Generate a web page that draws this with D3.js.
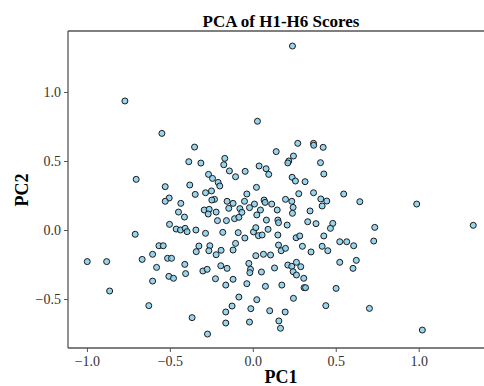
<!DOCTYPE html>
<html><head><meta charset="utf-8">
<script src="https://cdn.jsdelivr.net/npm/d3@7"></script>
<style>body{margin:0;background:#fff;overflow:hidden}svg{display:block}</style>
</head><body>
<script>
const pc1 = [-0.771,-0.548,0.239,0.028,
-0.351,-0.386,-0.313,-0.703,-0.528,-0.380,-0.347,-0.504,-0.528,-0.434,-0.448,-0.412,-0.502,-0.462,-0.436,-0.408,-0.396,-0.343,-0.709,
0.271,0.366,0.367,0.424,0.141,0.245,0.217,0.211,-0.169,-0.175,-0.141,-0.104,-0.046,0.038,0.080,0.096,0.408,0.428,
-0.267,-0.243,-0.209,-0.199,0.237,0.257,0.315,0.022,-0.285,-0.249,-0.036,0.277,0.366,0.548,
-0.231,-0.247,-0.155,-0.119,-0.050,0.068,0.074,0.010,0.114,0.197,0.235,0.410,0.446,0.418,
-0.293,-0.263,-0.221,-0.145,-0.078,-0.066,-0.020,0.046,0.147,0.243,0.345,0.239,
-0.269,-0.213,-0.159,-0.110,-0.084,0.024,0.082,0.151,0.155,0.207,0.331,0.381,0.482,0.468,
-0.285,-0.181,-0.088,-0.048,0.004,0.018,0.034,0.056,0.092,0.151,0.261,0.283,0.428,
0.645,0.988,0.735,1.329,
0.524,0.566,0.608,0.729,0.624,0.604,0.502,0.703,1.022,
-0.998,-0.881,-0.863,-0.667,-0.604,-0.566,-0.540,-0.580,-0.514,-0.490,-0.604,-0.506,-0.478,-0.410,-0.405,-0.341,-0.325,-0.627,-0.366,
-0.301,-0.275,-0.259,-0.265,-0.221,-0.191,-0.119,-0.104,
-0.193,-0.155,-0.225,-0.119,-0.163,-0.024,-0.014,-0.018,0.018,0.064,0.107,0.155,0.171,0.197,0.052,0.131,-0.036,0.076,0.175,
0.211,0.235,0.263,0.289,0.243,0.263,0.307,0.309,0.318,0.299,0.351,0.418,0.452,0.524,
-0.084,0.024,-0.125,-0.163,-0.012,0.102,0.195,0.245,0.440,-0.163,-0.020,0.157,0.167,-0.273];
const pc2 = [0.935,0.700,1.333,0.788,
0.601,0.495,0.485,0.367,0.314,0.326,0.258,0.232,0.208,0.193,0.130,0.094,0.041,0.007,0.000,0.012,-0.012,0.000,-0.031,
0.628,0.628,0.614,0.599,0.568,0.536,0.500,0.486,0.519,0.473,0.428,0.386,0.425,0.464,0.444,0.403,0.488,0.406,
0.403,0.374,0.345,0.319,0.382,0.355,0.350,0.309,0.270,0.283,0.261,0.263,0.270,0.261,
0.222,0.217,0.208,0.193,0.208,0.217,0.200,0.188,0.188,0.222,0.208,0.225,0.210,0.174,
0.145,0.150,0.130,0.157,0.155,0.128,0.162,0.145,0.145,0.164,0.138,0.121,
0.116,0.068,0.068,0.082,0.092,0.109,0.072,0.072,0.053,0.036,0.060,0.046,0.048,0.012,
-0.024,-0.017,-0.019,-0.058,-0.014,0.017,-0.041,-0.036,0.005,-0.036,-0.056,-0.043,-0.043,
0.205,0.188,0.019,0.034,
-0.085,-0.085,-0.114,-0.080,-0.220,-0.278,-0.423,-0.568,-0.725,
-0.229,-0.229,-0.442,-0.213,-0.176,-0.114,-0.114,-0.271,-0.205,-0.205,-0.370,-0.336,-0.350,-0.249,-0.316,-0.157,-0.116,-0.548,-0.635,
-0.297,-0.285,-0.114,-0.150,-0.179,-0.147,-0.145,-0.097,
-0.259,-0.278,-0.353,-0.357,-0.399,-0.242,-0.285,-0.309,-0.186,-0.176,-0.181,-0.109,-0.150,-0.133,-0.304,-0.275,-0.389,-0.408,-0.399,
-0.254,-0.263,-0.234,-0.266,-0.302,-0.326,-0.350,-0.418,-0.418,-0.118,-0.159,-0.118,-0.150,-0.234,
-0.486,-0.505,-0.551,-0.594,-0.570,-0.585,-0.594,-0.495,-0.548,-0.674,-0.667,-0.659,-0.712,-0.754];
const xTicks = [-1.0,-0.5,0.0,0.5,1.0];
const yTicks = [-0.5,0.0,0.5,1.0];
const title = "PCA of H1-H6 Scores", xLabel = "PC1", yLabel = "PC2";

const W=484,H=386;
const svg=d3.select("body").append("svg").attr("width",W).attr("height",H);
const L=68,R=498,T=31,B=348;
const x=d3.scaleLinear().domain([-1.114,1.478]).range([L,R]);
const y=d3.scaleLinear().domain([-0.855,1.442]).range([B,T]);
const fmt=d=>{const s=Math.abs(d).toFixed(1);return d<0?"\u2212"+s:s;};
const font="'Liberation Serif','Times New Roman',serif";

const pts=pc1.map((v,i)=>[v,pc2[i]]);
svg.append("g").selectAll("circle").data(pts).join("circle")
  .attr("cx",d=>x(d[0])).attr("cy",d=>y(d[1])).attr("r",3)
  .attr("fill","#87CEEB").attr("fill-opacity",0.85)
  .attr("stroke","#1a1a1a").attr("stroke-width",1);

const xa=svg.append("g").attr("transform",`translate(0,${B})`)
  .call(d3.axisBottom(x).tickValues(xTicks).tickFormat(fmt).tickSize(4).tickPadding(4));
const ya=svg.append("g").attr("transform",`translate(${L},0)`)
  .call(d3.axisLeft(y).tickValues(yTicks).tickFormat(fmt).tickSize(4).tickPadding(3));
[xa,ya].forEach(a=>{
  a.select(".domain").remove();
  a.selectAll("line").attr("stroke","#555").attr("stroke-width",1);
  a.selectAll("text").attr("font-family",font).attr("font-size",14).attr("fill","#333");
});
// spines (right spine falls outside the visible window)
svg.append("line").attr("x1",L).attr("x2",L).attr("y1",T).attr("y2",B).attr("stroke","#555").attr("stroke-width",1.3);
svg.append("line").attr("x1",L).attr("x2",R).attr("y1",B).attr("y2",B).attr("stroke","#555").attr("stroke-width",1.3);
svg.append("line").attr("x1",L).attr("x2",R).attr("y1",T).attr("y2",T).attr("stroke","#555").attr("stroke-width",1.3);

svg.append("text").attr("x",281).attr("y",26.5).attr("text-anchor","middle")
  .attr("font-family",font).attr("font-weight","bold").attr("font-size",17).text(title);
svg.append("text").attr("x",281).attr("y",383).attr("text-anchor","middle")
  .attr("font-family",font).attr("font-weight","bold").attr("font-size",18).text(xLabel);
svg.append("text").attr("transform","translate(28,190) rotate(-90)").attr("text-anchor","middle")
  .attr("font-family",font).attr("font-weight","bold").attr("font-size",18).text(yLabel);
</script>
</body></html>
